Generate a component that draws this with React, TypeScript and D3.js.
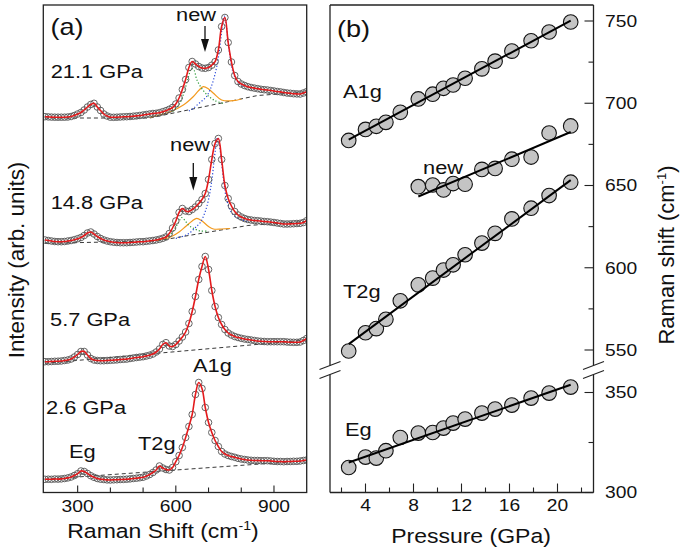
import React from 'react';
import * as d3 from 'd3';

// ---------- Panel (a): Raman spectra ----------
const shiftCm = [
  200, 210, 220, 230, 240, 250, 260, 270, 280, 290,
  300, 310, 320, 330, 340, 350, 360, 370, 380, 390,
  400, 410, 420, 430, 440, 450, 460, 470, 480, 490,
  500, 510, 520, 530, 540, 550, 560, 570, 580, 590,
  600, 610, 620, 630, 640, 650, 660, 670, 680, 690,
  700, 710, 720, 730, 740, 750, 760, 770, 780, 790,
  800, 810, 820, 830, 840, 850, 860, 870, 880, 890,
  900, 910, 920, 930, 940, 950, 960, 970, 980, 990, 1000,
];

const int26 = [
  13.2, 13.3, 13.2, 13.5, 13.4, 13.6, 14.0, 14.6, 15.5, 17.0,
  18.8, 21.5, 21.0, 19.0, 16.8, 15.2, 14.0, 13.3, 13.0, 12.6,
  12.5, 12.7, 12.8, 13.0, 13.1, 13.3, 13.6, 14.0, 14.3, 14.8,
  15.3, 16.5, 18.0, 20.0, 22.5, 26.5, 24.5, 23.0, 22.5, 25.0,
  30.8, 37, 45, 55, 66, 78, 98, 110, 104, 85,
  70, 60, 52, 46, 41, 38.5, 37, 36, 35.2, 34.2,
  33.5, 33.0, 32.5, 32.2, 32.0, 32.0, 31.8, 31.8, 31.8, 31.5,
  31.2, 31.0, 31.0, 30.8, 31.0, 31.0, 31.2, 31.2, 31.5, 32.0, 32.5,
];

const int57 = [
  130.8, 130.8, 131.0, 131.2, 131.3, 131.5, 132.0, 132.5, 133.5, 135.5,
  138.0, 141.0, 141.0, 137.5, 134.0, 132.5, 132.0, 131.8, 131.8, 132.0,
  132.2, 132.4, 132.6, 133.0, 133.2, 133.4, 134.0, 134.5, 135.0, 135.4,
  135.8, 136.5, 137.3, 138.5, 140.5, 143.5, 148.0, 149.8, 146.5, 146.0,
  148.0, 151.5, 155.5, 160.5, 169.0, 181.0, 196.0, 213.0, 226.0, 236.0,
  223.0, 202.0, 186.0, 175.0, 168.0, 163.0, 159.5, 157.5, 156.0, 155.0,
  154.2, 153.5, 153.0, 152.5, 152.0, 151.5, 151.2, 151.0, 150.8, 150.8,
  150.8, 150.8, 150.8, 150.8, 150.5, 150.3, 150.2, 150.2, 150.5, 152.0, 154.0,
];

const int148 = [
  252.5, 252.0, 251.5, 251.0, 250.8, 250.8, 251.0, 251.5, 252.0, 252.8,
  253.8, 255.0, 257.0, 259.5, 260.5, 258.5, 256.0, 254.0, 252.5, 251.5,
  250.8, 250.3, 250.0, 249.8, 249.8, 249.8, 250.0, 250.2, 250.5, 250.8,
  250.8, 251.2, 251.6, 252.0, 252.5, 253.2, 254.2, 255.5, 259.0, 264.5,
  271.5, 280.0, 284.0, 281.5, 281.0, 283.0, 285.5, 289.0, 293.0, 299.0,
  313.0, 333.0, 349.0, 354.0, 333.0, 307.0, 294.0, 286.5, 281.0, 277.5,
  275.5, 274.0, 273.0, 272.5, 272.0, 271.8, 271.4, 271.0, 270.8, 270.4,
  270.0, 269.5, 269.0, 268.5, 268.5, 268.6, 268.8, 269.0, 269.2, 270.0, 271.8,
];

const int211 = [
  375.8, 375.6, 375.4, 375.3, 375.3, 375.3, 375.3, 375.5, 376.0, 377.0,
  378.5, 380.0, 382.5, 385.5, 388.0, 389.2, 385.5, 382.0, 378.5, 376.5,
  375.3, 375.2, 375.3, 375.5, 375.7, 375.8, 376.0, 376.3, 376.6, 377.0,
  377.5, 378.0, 378.5, 379.0, 379.2, 379.8, 380.8, 381.8, 383.2, 385.0,
  388.5, 394.5, 403.0, 413.0, 425.0, 431.0, 428.5, 426.0, 424.5, 424.2,
  425.0, 427.3, 430.8, 442.5, 466.0, 475.0, 450.0, 430.5, 417.0, 411.0,
  408.5, 407.0, 405.8, 405.0, 404.4, 403.8, 403.2, 402.8, 402.5, 402.0,
  401.5, 401.0, 400.6, 400.0, 399.5, 399.2, 398.8, 398.6, 398.5, 399.5, 400.8,
];

const pressureLabels = ['2.6 GPa', '5.7 GPa', '14.8 GPa', '21.1 GPa'];

// dashed backgrounds [shift, intensity]
const base26: [number, number][] = [[200, 13.2], [1000, 31.8]];
const base57: [number, number][] = [[200, 129.2], [1000, 152.5]];
const base148: [number, number][] = [[200, 249.2], [540, 251.5], [820, 267], [1000, 271]];
const base211: [number, number][] = [[200, 374.5], [520, 374.5], [850, 397], [1000, 400.5]];

// fitted components
const orange148: [number, number][] = [[540, 252.2], [570, 254], [590, 256.5], [610, 260.5], [630, 266], [650, 271.5], [664, 274.2], [680, 271.5], [700, 266], [715, 263.5], [740, 263.5], [766, 264]];
const green148: [number, number][] = [[560, 254], [580, 257], [595, 263], [608, 270], [618, 275], [628, 272], [640, 267], [655, 264], [675, 261.5], [700, 261.5]];
const blue148: [number, number][] = [[600, 254], [620, 256], [640, 259], [660, 265], [675, 270], [690, 281], [700, 293], [710, 312], [718, 335], [724, 350], [727, 355], [730, 353], [738, 336], [746, 312], [756, 292], [770, 280], [790, 274], [820, 271]];
const orange211: [number, number][] = [[520, 375], [550, 377.5], [583, 380.8], [623, 387.5], [653, 395.8], [670, 402], [684, 405.8], [700, 403.5], [715, 399.2], [740, 392.5], [775, 391.8], [800, 393.5]];
const green211: [number, number][] = [[590, 381], [610, 388], [625, 400], [638, 415], [648, 424], [656, 422], [664, 413], [679, 404.2], [699, 396.5], [720, 391.8], [745, 389]];
const blue211: [number, number][] = [[640, 381.5], [653, 384], [670, 389], [685, 393], [694, 396], [705, 403], [715, 412.5], [725, 425.8], [732, 439.2], [738, 455], [743, 469], [748, 476.5], [753, 470], [758, 456], [765, 438], [775, 420], [790, 410], [810, 405]];

const shiftTicksMajor = [300, 600, 900];
const shiftTicksMinor = [400, 500, 700, 800];

// ---------- Panel (b): mode frequencies vs pressure ----------
const pressure = [2.6, 4.0, 4.9, 5.7, 6.9, 8.4, 9.6, 10.5, 11.3, 12.3, 13.7, 14.8, 16.2, 17.8, 19.3, 21.1];
const freqA1g = [677.4, 684.1, 686.0, 688.4, 694.5, 702.6, 705.5, 709.1, 711.1, 715.2, 720.9, 725.6, 731.7, 738.0, 743.3, 749.4];
const freqT2g = [549.4, 560.5, 563.0, 568.7, 579.9, 589.6, 593.7, 598.6, 601.8, 607.9, 615.0, 620.9, 629.7, 636.2, 643.9, 652.0];
const freqEg = [312.5, 317.7, 317.2, 320.9, 327.5, 329.7, 330.0, 332.2, 334.7, 336.7, 339.7, 341.7, 343.7, 347.2, 349.7, 352.7];
const pressureNew = [8.4, 9.6, 10.5, 11.3, 12.3, 13.7, 14.8, 16.2, 17.8, 19.3, 21.1];
const freqNew = [649.3, 650.3, 647.3, 651.2, 650.8, 659.8, 660.4, 666.0, 667.3, 681.9, 686.2];

// linear fits: [p0, p1], [v0, v1]
const fitA1g = { p: [2.6, 21.1], v: [677.9, 750.2] };
const fitNew = { p: [8.4, 21.1], v: [643.3, 682.5] };
const fitT2g = { p: [2.6, 21.1], v: [553.6, 653.3] };
const fitEg = { p: [2.6, 21.1], v: [315.0, 353.9] };

const pTicksMajor = [4, 8, 12, 16, 20];
const pTicksMinor = [2, 6, 10, 14, 18, 22];
const upperTicksMajor = [550, 600, 650, 700, 750];
const upperTicksMinor = [575, 625, 675, 725];
const lowerTicksMajor = [300, 350];
const lowerTicksMinor = [325];

const FONT = "'Liberation Sans', Arial, Helvetica, sans-serif";
const SX = 1.18;

function HText(props: { x: number; y: number; size: number; anchor?: string; children: React.ReactNode; fill?: string }) {
  const { x, y, size, anchor = 'start', children, fill = '#111' } = props;
  return (
    <text transform={`translate(${x},${y}) scale(${SX},1)`} fontSize={size} textAnchor={anchor as any} fontFamily={FONT} fill={fill}>
      {children}
    </text>
  );
}

export default function App() {
  // panel a
  const aL = 43.3, aR = 306.7, top = 5, bottom = 492.5;
  const xA = d3.scaleLinear().domain([195, 1000]).range([aL, aR]);
  const yA = d3.scaleLinear().domain([0, 487.5]).range([bottom, top]);
  const smooth = d3.line<[number, number]>().x(d => xA(d[0])).y(d => yA(d[1])).curve(d3.curveCatmullRom.alpha(0.5));
  const straight = d3.line<[number, number]>().x(d => xA(d[0])).y(d => yA(d[1]));

  const spectra = [
    { I: int26, base: base26, label: pressureLabels[0] },
    { I: int57, base: base57, label: pressureLabels[1] },
    { I: int148, base: base148, label: pressureLabels[2] },
    { I: int211, base: base211, label: pressureLabels[3] },
  ];
  const comps = [
    { pts: orange148, color: '#f39a1e', dash: undefined, w: 1.2 },
    { pts: green148, color: '#2e9a3a', dash: '1.2 2', w: 1.2 },
    { pts: blue148, color: '#2848d8', dash: '1.2 2', w: 1.2 },
    { pts: orange211, color: '#f39a1e', dash: undefined, w: 1.2 },
    { pts: green211, color: '#2e9a3a', dash: '1.2 2', w: 1.2 },
    { pts: blue211, color: '#2848d8', dash: '1.2 2', w: 1.2 },
  ];

  // panel b
  const bL = 330, bR = 593.5;
  const xB = d3.scaleLinear().domain([1, 23]).range([329.5, 593.5]);
  const yUp = d3.scaleLinear().domain([550, 750]).range([350, 21]);
  const yLo = d3.scaleLinear().domain([300, 350]).range([492.5, 392.5]);
  const brkTop = 365.5, brkBot = 374.5;

  const upperSeries = [
    { p: pressure, v: freqA1g },
    { p: pressureNew, v: freqNew },
    { p: pressure, v: freqT2g },
  ];
  const fitsUp = [fitA1g, fitNew, fitT2g];

  const frameColor = '#222';
  const slash = (cx: number, cy: number) => (
    <line x1={cx - 10.5} y1={cy + 4} x2={cx + 10.5} y2={cy - 4} stroke={frameColor} strokeWidth={1.2} />
  );

  return (
    <svg width={685} height={554} style={{ position: 'absolute', left: 0, top: 0, background: '#fff' }} fontFamily={FONT}>
      <rect x={0} y={0} width={685} height={554} fill="#fff" />
      <defs>
        <clipPath id="clipA">
          <rect x={aL} y={top} width={aR - aL} height={bottom - top} />
        </clipPath>
      </defs>

      {/* ---------- Panel (a) ---------- */}
      <g clipPath="url(#clipA)">
        {spectra.map((s, i) => (
          <path key={'b' + i} d={straight(s.base) || ''} fill="none" stroke="#222" strokeWidth={0.9} strokeDasharray="4 3" />
        ))}
        {comps.map((c, i) => (
          <path key={'c' + i} d={smooth(c.pts) || ''} fill="none" stroke={c.color} strokeWidth={c.w} strokeDasharray={c.dash} />
        ))}
        {spectra.map((s, i) => (
          <g key={'s' + i}>
            {shiftCm.map((cm, j) => (
              <circle key={j} cx={xA(cm)} cy={yA(s.I[j])} r={3.3} fill="none" stroke="#555" strokeWidth={0.9} />
            ))}
            <path d={smooth(shiftCm.map((cm, j) => [cm, s.I[j]] as [number, number])) || ''} fill="none" stroke="#e31a1c" strokeWidth={1.6} />
          </g>
        ))}
      </g>
      <rect x={aL} y={top} width={aR - aL} height={bottom - top} fill="none" stroke={frameColor} strokeWidth={1.3} />
      {shiftTicksMajor.map(t => (
        <g key={'am' + t}>
          <line x1={xA(t)} x2={xA(t)} y1={bottom} y2={bottom - 7} stroke={frameColor} strokeWidth={1.1} />
          <HText x={xA(t)} y={511.5} size={16.3} anchor="middle">{t}</HText>
        </g>
      ))}
      {shiftTicksMinor.map(t => (
        <line key={'an' + t} x1={xA(t)} x2={xA(t)} y1={bottom} y2={bottom - 5} stroke={frameColor} strokeWidth={1.1} />
      ))}
      <text transform={`translate(163,537.5) scale(${SX},1)`} fontSize={19.5} textAnchor="middle" fill="#111">
        <tspan>Raman Shift (cm</tspan>
        <tspan dy={-8} fontSize={12}>-1</tspan>
        <tspan dy={8}>)</tspan>
      </text>
      <text transform={`translate(23.5,260) rotate(-90)`} fontSize={22.4} textAnchor="middle" fill="#111">Intensity (arb. units)</text>

      <HText x={50.5} y={35} size={23}>(a)</HText>
      <HText x={50.7} y={78.3} size={18.5}>{pressureLabels[3]}</HText>
      <HText x={50.7} y={209.3} size={18.5}>{pressureLabels[2]}</HText>
      <HText x={50} y={326} size={18.5}>{pressureLabels[1]}</HText>
      <HText x={46} y={414.3} size={18.5}>{pressureLabels[0]}</HText>
      <HText x={176} y={21} size={18.5}>new</HText>
      <HText x={170} y={150.7} size={18.5}>new</HText>
      <HText x={193} y={372} size={18.5}>A1g</HText>
      <HText x={69} y={458} size={18.5}>Eg</HText>
      <HText x={138} y={450} size={18.5}>T2g</HText>
      {/* arrows */}
      <line x1={205} x2={205} y1={26} y2={42} stroke="#111" strokeWidth={1.3} />
      <polygon points="201,39 209,39 205,52" fill="#111" />
      <line x1={193.3} x2={193.3} y1={163} y2={179} stroke="#111" strokeWidth={1.3} />
      <polygon points="189.3,177 197.3,177 193.3,190.5" fill="#111" />

      {/* ---------- Panel (b) ---------- */}
      <line x1={bL} x2={bR} y1={top} y2={top} stroke={frameColor} strokeWidth={1.3} />
      <line x1={bL} x2={bR} y1={bottom} y2={bottom} stroke={frameColor} strokeWidth={1.3} />
      <line x1={bL} x2={bL} y1={top} y2={brkTop} stroke={frameColor} strokeWidth={1.3} />
      <line x1={bL} x2={bL} y1={brkBot} y2={bottom} stroke={frameColor} strokeWidth={1.3} />
      <line x1={bR} x2={bR} y1={top} y2={brkTop} stroke={frameColor} strokeWidth={1.3} />
      <line x1={bR} x2={bR} y1={brkBot} y2={bottom} stroke={frameColor} strokeWidth={1.3} />
      {slash(bL, brkTop)}
      {slash(bL, brkBot)}
      {slash(bR, brkTop)}
      {slash(bR, brkBot)}

      {pTicksMajor.map(t => (
        <g key={'pm' + t}>
          <line x1={xB(t)} x2={xB(t)} y1={bottom} y2={bottom - 9} stroke={frameColor} strokeWidth={1.1} />
          <HText x={xB(t)} y={511} size={16.3} anchor="middle">{t}</HText>
        </g>
      ))}
      {pTicksMinor.map(t => (
        <line key={'pn' + t} x1={xB(t)} x2={xB(t)} y1={bottom} y2={bottom - 5} stroke={frameColor} strokeWidth={1.1} />
      ))}
      {upperTicksMajor.map(t => (
        <g key={'um' + t}>
          <line x1={bR} x2={bR - 9} y1={yUp(t)} y2={yUp(t)} stroke={frameColor} strokeWidth={1.1} />
          <HText x={605} y={yUp(t) + 5.8} size={16.3}>{t}</HText>
        </g>
      ))}
      {upperTicksMinor.map(t => (
        <line key={'un' + t} x1={bR} x2={bR - 5} y1={yUp(t)} y2={yUp(t)} stroke={frameColor} strokeWidth={1.1} />
      ))}
      {lowerTicksMajor.map(t => (
        <g key={'lm' + t}>
          <line x1={bR} x2={bR - 9} y1={yLo(t)} y2={yLo(t)} stroke={frameColor} strokeWidth={1.1} />
          <HText x={605} y={yLo(t) + 5.8} size={16.3}>{t}</HText>
        </g>
      ))}
      {lowerTicksMinor.map(t => (
        <line key={'ln' + t} x1={bR} x2={bR - 5} y1={yLo(t)} y2={yLo(t)} stroke={frameColor} strokeWidth={1.1} />
      ))}

      {upperSeries.map((s, i) => (
        <g key={'us' + i}>
          {s.p.map((p, j) => (
            <circle key={j} cx={xB(p)} cy={yUp(s.v[j])} r={7.3} fill="#c4c4c4" stroke="#111" strokeWidth={1.1} />
          ))}
        </g>
      ))}
      {pressure.map((p, j) => (
        <circle key={'eg' + j} cx={xB(p)} cy={yLo(freqEg[j])} r={7.3} fill="#c4c4c4" stroke="#111" strokeWidth={1.1} />
      ))}
      {fitsUp.map((f, i) => (
        <line key={'f' + i} x1={xB(f.p[0])} y1={yUp(f.v[0])} x2={xB(f.p[1])} y2={yUp(f.v[1])} stroke="#000" strokeWidth={2} />
      ))}
      <line x1={xB(fitEg.p[0])} y1={yLo(fitEg.v[0])} x2={xB(fitEg.p[1])} y2={yLo(fitEg.v[1])} stroke="#000" strokeWidth={2} />

      <HText x={337} y={37} size={23}>(b)</HText>
      <HText x={343} y={97.5} size={18.5}>A1g</HText>
      <HText x={423} y={174} size={18.5}>new</HText>
      <HText x={343} y={298} size={18.5}>T2g</HText>
      <HText x={345} y={436} size={18.5}>Eg</HText>

      <HText x={471} y={543.3} size={19.5} anchor="middle">Pressure (GPa)</HText>
      <text transform={`translate(674,255) rotate(-90)`} fontSize={22} textAnchor="middle" fill="#111">
        <tspan>Raman shift (cm</tspan>
        <tspan dy={-8} fontSize={13}>-1</tspan>
        <tspan dy={8}>)</tspan>
      </text>
    </svg>
  );
}
